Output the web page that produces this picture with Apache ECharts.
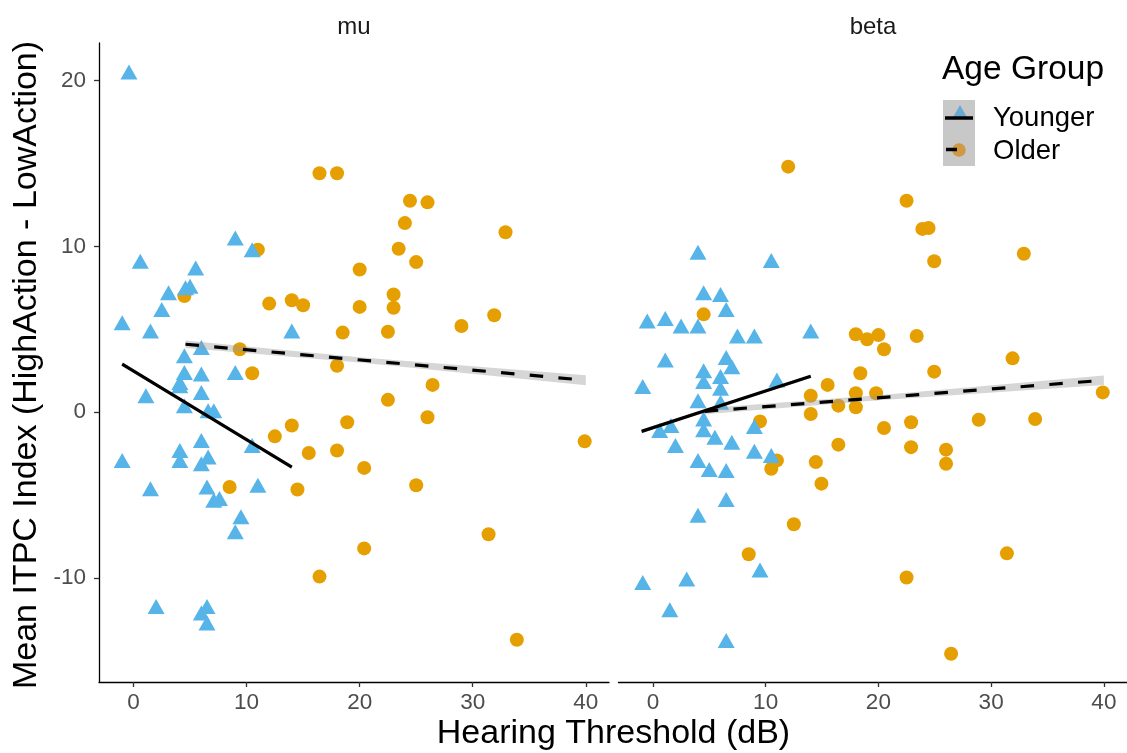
<!DOCTYPE html>
<html><head><meta charset="utf-8">
<script src="https://cdn.jsdelivr.net/npm/echarts@6/dist/echarts.min.js"></script>
<style>html,body{margin:0;padding:0;background:#fff}#c{width:1127px;height:753px}</style>
</head><body><div id="c"></div>
<script>
const panels = ['mu', 'beta'];
const groups = ['Younger', 'Older'];
const xTicks = [0, 10, 20, 30, 40];
const yTicks = [-10, 0, 10, 20];

const muYounger = [[-0.4,20.5],[9.0,10.5],[10.5,9.8],[0.6,9.1],[5.5,8.7],[4.6,7.5],[5.0,7.6],[3.1,7.2],[2.5,6.2],[-1.0,5.4],[1.5,4.9],[14.0,4.9],[4.5,3.4],[6.0,3.9],[4.5,2.4],[6.0,2.3],[9.0,2.4],[4.1,1.8],[4.1,1.6],[6.0,1.2],[1.1,1.0],[4.5,0.4],[6.6,0.1],[7.1,0.1],[6.0,-1.7],[10.5,-2.0],[4.1,-2.3],[4.1,-2.9],[6.6,-2.7],[6.0,-3.1],[-1.0,-2.9],[1.5,-4.6],[6.5,-4.5],[7.1,-5.3],[7.6,-5.2],[11.0,-4.4],[9.5,-6.3],[9.0,-7.2],[2.0,-11.7],[6.5,-11.7],[6.0,-12.1],[6.5,-12.7]];
const muOlder = [[4.5,7.0],[9.4,3.8],[10.5,2.35],[11.0,9.8],[12.0,6.55],[14.0,6.75],[15.0,6.45],[16.45,14.4],[18.0,14.4],[18.5,4.8],[18.0,2.8],[20.0,8.6],[20.0,6.35],[24.45,12.75],[26.0,12.65],[24.0,11.4],[32.9,10.85],[23.45,9.85],[25.0,9.05],[23.0,7.1],[23.0,6.3],[22.5,4.85],[29.0,5.2],[31.9,5.85],[26.45,1.65],[22.5,0.75],[18.9,-0.6],[26.0,-0.3],[14.0,-0.8],[12.5,-1.45],[15.5,-2.45],[18.0,-2.3],[8.5,-4.5],[14.5,-4.65],[20.4,-3.35],[20.4,-8.2],[16.45,-9.9],[25.0,-4.4],[39.9,-1.75],[31.4,-7.35],[33.9,-13.7]];
const betaYounger = [[4.0,9.65],[10.5,9.15],[4.5,7.2],[6.0,7.1],[6.5,6.2],[-0.5,5.5],[1.1,5.65],[2.5,5.2],[4.0,5.2],[7.5,4.6],[9.0,4.6],[14.0,4.9],[1.1,3.15],[6.5,3.3],[7.0,2.75],[4.5,2.5],[6.0,2.15],[4.5,1.85],[11.0,1.95],[-0.9,1.55],[6.0,1.45],[4.0,0.7],[6.0,0.6],[4.5,-0.4],[1.6,-0.8],[0.6,-1.1],[4.5,-1.05],[9.0,-0.85],[5.5,-1.5],[2.0,-2.0],[7.0,-1.8],[9.0,-2.35],[10.5,-2.6],[4.0,-2.9],[5.0,-3.45],[6.5,-3.5],[6.5,-5.25],[4.0,-6.2],[9.5,-9.5],[-0.9,-10.25],[3.0,-10.05],[1.5,-11.9],[6.5,-13.75]];
const betaOlder = [[4.5,5.9],[12.0,14.8],[18.0,4.7],[19.0,4.4],[18.4,2.35],[15.5,1.65],[14.0,1.0],[18.0,1.15],[19.8,1.15],[16.45,0.4],[18.0,0.3],[14.0,-0.1],[9.5,-0.55],[16.45,-1.95],[14.45,-3.0],[14.95,-4.3],[12.5,-6.75],[8.5,-8.55],[11.0,-2.9],[10.5,-3.4],[22.5,12.75],[23.9,11.05],[24.45,11.1],[32.9,9.55],[24.95,9.1],[20.0,4.65],[20.5,3.8],[23.4,4.6],[31.9,3.25],[24.95,2.45],[39.9,1.2],[20.5,-0.95],[22.9,-0.6],[28.9,-0.45],[33.9,-0.4],[22.9,-2.1],[26.0,-2.25],[26.0,-3.1],[31.4,-8.5],[22.5,-9.95],[26.45,-14.55]];

// fitted regression lines (endpoints) and confidence bands [x, lower, upper]
const muYoungerFit = [[-1,2.9],[14,-3.3]];
const muOlderFit = [[4.6,4.1],[40,1.93]];
const betaYoungerFit = [[-1,-1.15],[14,2.17]];
const betaOlderFit = [[4.6,0.06],[40,1.93]];
const muYoungerBand = [[-1,2.78,3.02],[6.5,-0.27,-0.13],[14,-3.42,-3.18]];
const muOlderBand = [[4.6,3.88,4.32],[20,3.0,3.31],[40,1.63,2.23]];
const betaYoungerBand = [[-1,-1.25,-1.05],[6.5,0.45,0.57],[14,2.07,2.27]];
const betaOlderBand = [[4.6,-0.12,0.24],[20,0.72,1.02],[40,1.65,2.21]];

const FONT = "'Liberation Sans', Arial, sans-serif";
const BLUE = '#56B4E9', ORANGE = '#E69F00';

const chart = echarts.init(document.getElementById('c'), null, {renderer: 'canvas'});

function xAxisFor(i) {
  return {
    type: 'value', gridIndex: i, min: -3.05, max: 42.05,
    axisLine: {show: true, onZero: false, lineStyle: {color: '#000', width: 1.3}},
    axisTick: {show: true, length: 5, customValues: xTicks, lineStyle: {color: '#333', width: 1.3}},
    axisLabel: {customValues: xTicks, fontSize: 22.5, color: '#4D4D4D', margin: 9, fontFamily: FONT},
    splitLine: {show: false}
  };
}
function yAxisFor(i) {
  const shown = i === 0;
  return {
    type: 'value', gridIndex: i, min: -16.25, max: 22.25,
    axisLine: {show: shown, onZero: false, lineStyle: {color: '#000', width: 1.3}},
    axisTick: {show: shown, length: 5, customValues: yTicks, lineStyle: {color: '#333', width: 1.3}},
    axisLabel: {show: shown, customValues: yTicks, fontSize: 22.5, color: '#4D4D4D', margin: 13, fontFamily: FONT},
    splitLine: {show: false}
  };
}
function bandSeries(band, i) {
  return {
    type: 'custom', xAxisIndex: i, yAxisIndex: i, data: band, silent: true, z: 3,
    encode: {x: 0, y: [1, 2]},
    renderItem: function (params, api) {
      if (params.dataIndex !== 0) return null;
      const up = band.map(d => api.coord([d[0], d[2]]));
      const lo = band.slice().reverse().map(d => api.coord([d[0], d[1]]));
      return {type: 'polygon', shape: {points: up.concat(lo)}, style: {fill: 'rgba(153,153,153,0.4)'}};
    }
  };
}
function fitSeries(fit, i, dashed) {
  return {
    type: 'line', xAxisIndex: i, yAxisIndex: i, data: fit, symbol: 'none', silent: true, z: 4,
    lineStyle: {color: '#000', width: 3.2, type: dashed ? [13.5, 15.3] : 'solid', cap: 'butt'}
  };
}
function pointSeries(data, i, young) {
  return {
    type: 'scatter', xAxisIndex: i, yAxisIndex: i, data: data, silent: true, z: young ? 2 : 1,
    symbol: young ? 'triangle' : 'circle', symbolSize: young ? [17, 15] : 14,
    itemStyle: {color: young ? BLUE : ORANGE, opacity: 1}
  };
}

const option = {
  backgroundColor: '#fff',
  animation: false,
  grid: [
    {left: 99, top: 43, width: 510, height: 639},
    {left: 618.5, top: 43, width: 510, height: 639}
  ],
  xAxis: [xAxisFor(0), xAxisFor(1)],
  yAxis: [yAxisFor(0), yAxisFor(1)],
  series: [
    pointSeries(muOlder, 0, false), pointSeries(muYounger, 0, true),
    pointSeries(betaOlder, 1, false), pointSeries(betaYounger, 1, true),
    bandSeries(muYoungerBand, 0), bandSeries(muOlderBand, 0),
    bandSeries(betaYoungerBand, 1), bandSeries(betaOlderBand, 1),
    fitSeries(muYoungerFit, 0, false), fitSeries(muOlderFit, 0, true),
    fitSeries(betaYoungerFit, 1, false), fitSeries(betaOlderFit, 1, true)
  ],
  graphic: [
    {type: 'text', x: 354, y: 27, style: {text: panels[0], fontSize: 24, fontFamily: FONT, fill: '#1A1A1A', align: 'center', verticalAlign: 'middle'}},
    {type: 'text', x: 873, y: 27, style: {text: panels[1], fontSize: 24, fontFamily: FONT, fill: '#1A1A1A', align: 'center', verticalAlign: 'middle'}},
    {type: 'text', x: 613.5, y: 734, style: {text: 'Hearing Threshold (dB)', fontSize: 34, fontFamily: FONT, fill: '#000', align: 'center', verticalAlign: 'middle'}},
    {type: 'text', x: 27, y: 365, rotation: Math.PI / 2, style: {text: 'Mean ITPC Index (HighAction - LowAction)', fontSize: 34, fontFamily: FONT, fill: '#000', align: 'center', verticalAlign: 'middle'}},
    {type: 'text', x: 942, y: 70, style: {text: 'Age Group', fontSize: 33.5, fontFamily: FONT, fill: '#000', align: 'left', verticalAlign: 'middle'}},
    {type: 'rect', z: 10, shape: {x: 943, y: 100, width: 32, height: 66}, style: {fill: '#C8C8C8'}},
    {type: 'polygon', z: 11, shape: {points: [[960, 105], [968, 119], [952, 119]]}, style: {fill: '#6AAAD2'}},
    {type: 'line', z: 12, shape: {x1: 945, y1: 118, x2: 973, y2: 118}, style: {stroke: '#000', lineWidth: 3.5}},
    {type: 'circle', z: 11, shape: {cx: 959, cy: 150, r: 6.8}, style: {fill: '#D09A45'}},
    {type: 'line', z: 12, shape: {x1: 946, y1: 149.5, x2: 957, y2: 149.5}, style: {stroke: '#000', lineWidth: 3.5}},
    {type: 'text', x: 993, y: 118, style: {text: groups[0], fontSize: 27.5, fontFamily: FONT, fill: '#000', align: 'left', verticalAlign: 'middle'}},
    {type: 'text', x: 993, y: 151, style: {text: groups[1], fontSize: 27.5, fontFamily: FONT, fill: '#000', align: 'left', verticalAlign: 'middle'}}
  ]
};
chart.setOption(option);
</script>
</body></html>
